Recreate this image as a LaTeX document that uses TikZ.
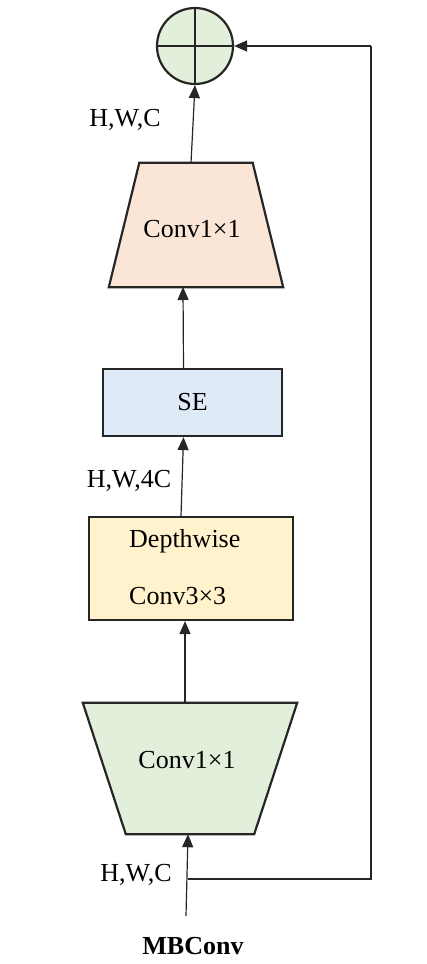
\documentclass[tikz,border=0pt]{standalone}
\usepackage{fontspec}
\setmainfont{Liberation Serif}
\usetikzlibrary{arrows.meta}
\definecolor{cgreen}{HTML}{E2EFDA}
\definecolor{cpink}{HTML}{FBE5D6}
\definecolor{cblue}{HTML}{DEEBF7}
\definecolor{cyellow}{HTML}{FFF2CC}
\definecolor{cline}{HTML}{262626}
\begin{document}
\begin{tikzpicture}[x=1pt,y=-1pt,
  every node/.style={font=\fontsize{26}{30}\selectfont, inner sep=0pt},
  blk/.style={draw=cline, line width=2.2pt, line join=miter},
  arr/.style={draw=cline, line width=1.2pt, -{Triangle[length=13pt,width=11pt]}},
  ln/.style={draw=cline, line width=1.2pt}]
\useasboundingbox (0,0) rectangle (426,964);
% nodes
\node[blk, circle, fill=cgreen, minimum size=76pt] (sum) at (195,46) {};
\draw[cline, line width=2.2pt] (sum.north) -- (sum.south) (sum.west) -- (sum.east);
% upper trapezoid (narrow top)
\node[minimum width=174pt, minimum height=124pt] (up) at (196,225) {};
\filldraw[blk, fill=cpink] (up.south west) -- (up.south east) -- ([xshift=-30.5pt]up.north east) -- ([xshift=30.5pt]up.north west) -- cycle;
\node (uptxt) at (192,229) {Conv1\texttimes 1};
\node[blk, fill=cblue, minimum width=179pt, minimum height=67pt] (se) at (192.5,402.5) {SE};
\node[blk, fill=cyellow, minimum width=204pt, minimum height=103pt] (dw) at (191,568.5) {};
\node[anchor=west] (dwa) at (129,541) {Depthwise};
\node[anchor=west] (dwb) at (129,596) {Conv3\texttimes 3};
% lower trapezoid (wide top)
\node[minimum width=214pt, minimum height=131pt] (down) at (190,768.5) {};
\filldraw[blk, fill=cgreen] (down.north west) -- (down.north east) -- ([xshift=-43pt]down.south east) -- ([xshift=43pt]down.south west) -- cycle;
\node (downtxt) at (187,760) {Conv1\texttimes 1};
\node (lin) at (136,875) {H,W,C};
\node (l4c) at (129,481) {H,W,4C};
\node (lout) at (125,120) {H,W,C};
\node[font=\fontsize{26}{30}\selectfont\bfseries] (mb) at (193,946) {MBConv};
% connectors
\coordinate (src) at (186,916);
\coordinate (split) at (188,879);
\coordinate (rr) at (371,879);
\coordinate (ax) at (185,0);
\coordinate (upin) at (183,287);
\coordinate (upout) at (191,163);
\draw[arr] (src) -- (down.south -| split);
\draw[ln] (split) -- (rr) -- (rr |- sum.east);
\draw[arr] (rr |- sum.east) -- (sum.east);
\draw[arr] (down.north -| ax) -- (dw.south -| ax);
\draw[arr] ([xshift=-10pt]dw.north) -- ([xshift=-9pt]se.south);
\draw[arr] ([xshift=-9pt]se.north) -- (upin);
\draw[arr] (upout) -- (sum.south);
\end{tikzpicture}
\end{document}
